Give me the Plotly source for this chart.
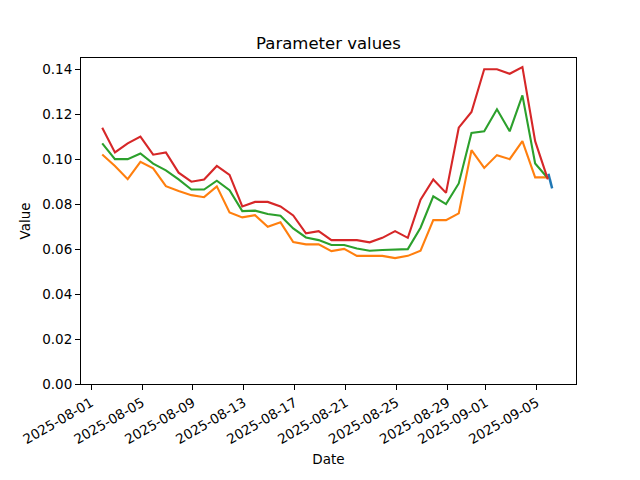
import pandas as pd
import plotly.graph_objects as go

dates = pd.date_range("2025-08-01 21:00", "2025-09-05 21:00", freq="D")

red_vals = [0.114, 0.103, 0.107, 0.110, 0.102, 0.103, 0.094, 0.090, 0.091, 0.097,
            0.093, 0.079, 0.081, 0.081, 0.079, 0.075, 0.067, 0.068, 0.064, 0.064,
            0.064, 0.063, 0.065, 0.068, 0.065, 0.082, 0.091, 0.085, 0.114, 0.121,
            0.140, 0.140, 0.138, 0.141, 0.108, 0.091]
green_vals = [0.107, 0.100, 0.100, 0.1025, 0.098, 0.095, 0.091, 0.0865, 0.0865, 0.0904,
              0.0862, 0.0769, 0.0771, 0.0756, 0.0748, 0.0692, 0.0652, 0.064, 0.0618, 0.0618,
              0.0603, 0.0593, 0.0596, 0.0599, 0.060, 0.0695, 0.0835, 0.080, 0.0892, 0.1117,
              0.1124, 0.1222, 0.1124, 0.1284, 0.0981, 0.0915]
orange_vals = [0.1021, 0.097, 0.0911, 0.0988, 0.0959, 0.088, 0.0858, 0.084, 0.0831, 0.0879,
               0.0763, 0.0741, 0.0751, 0.0699, 0.0719, 0.0631, 0.0621, 0.0621, 0.0591, 0.0601,
               0.057, 0.057, 0.057, 0.056, 0.057, 0.0593, 0.0729, 0.0729, 0.0759, 0.104,
               0.0961, 0.1018, 0.100, 0.108, 0.0919, 0.0919]

blue_times = pd.date_range("2025-09-05 22:00", "2025-09-06 05:00", freq="h")
blue_vals = [0.0935, 0.0925, 0.0912, 0.0905, 0.0895, 0.0885, 0.0876, 0.0870]

tick_dates = ["2025-08-01", "2025-08-05", "2025-08-09", "2025-08-13", "2025-08-17",
              "2025-08-21", "2025-08-25", "2025-08-29", "2025-09-01", "2025-09-05"]
y_ticks = [0.00, 0.02, 0.04, 0.06, 0.08, 0.10, 0.12, 0.14]

fig = go.Figure()
fig.add_trace(go.Scatter(x=blue_times, y=blue_vals, mode="lines",
                         line=dict(color="#1f77b4", width=2.5), showlegend=False))
fig.add_trace(go.Scatter(x=dates, y=orange_vals, mode="lines",
                         line=dict(color="#ff7f0e", width=2.1), showlegend=False))
fig.add_trace(go.Scatter(x=dates, y=green_vals, mode="lines",
                         line=dict(color="#2ca02c", width=2.1), showlegend=False))
fig.add_trace(go.Scatter(x=dates, y=red_vals, mode="lines",
                         line=dict(color="#d62728", width=2.1), showlegend=False))

axis_common = dict(showline=True, linecolor="black", linewidth=1, mirror=True,
                   ticks="outside", ticklen=5, tickwidth=1, tickcolor="black",
                   showgrid=False, zeroline=False,
                   tickfont=dict(family="DejaVu Sans", size=13.5, color="black"))

# page body has an 8px offset; margins compensate so the axes box matches
fig.update_layout(
    width=640, height=480,
    margin=dict(l=73, r=72, t=50, b=104),
    paper_bgcolor="white", plot_bgcolor="white",
    title=dict(text="Parameter values", x=(73 + 568) / 2 / 640, xanchor="center",
               y=1 - 35 / 480, yanchor="middle",
               font=dict(family="DejaVu Sans", size=16.5, color="black")),
    xaxis=dict(**axis_common, type="date",
               range=["2025-07-31 05:00", "2025-09-08 02:00"],
               tickvals=tick_dates, ticktext=tick_dates, tickangle=-30,
               title=dict(text="Date", standoff=8,
                          font=dict(family="DejaVu Sans", size=13.5, color="black"))),
    yaxis=dict(**axis_common, range=[0, 0.145], tickvals=y_ticks,
               ticktext=[f"{v:.2f}" for v in y_ticks],
               title=dict(text="Value", standoff=8,
                          font=dict(family="DejaVu Sans", size=13.5, color="black"))),
)

fig.write_html("out.html")
